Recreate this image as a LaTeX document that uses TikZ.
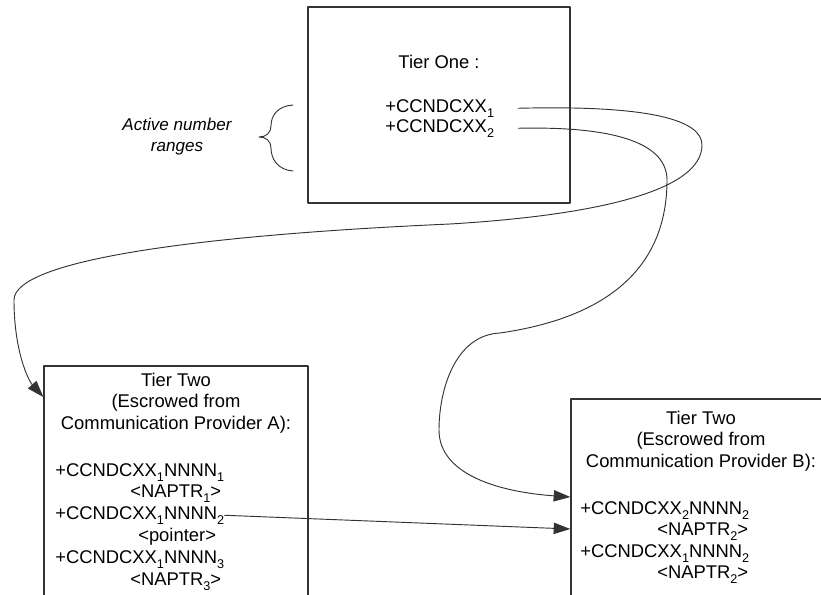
\documentclass[tikz,border=0pt]{standalone}
\usepackage{fontspec}
\setmainfont{Liberation Sans}
\usetikzlibrary{arrows.meta}
\newcommand{\lowsub}[1]{\raisebox{-0.55ex}{\fontsize{9.5}{9.5}\selectfont #1}}
\tikzset{
	tier/.style={draw=black!80, line width=1pt, inner sep=0pt},
	entry/.style={inner sep=0pt, anchor=base west},
	link/.style={line width=0.7pt, draw=black!80}
}
\begin{document}
\begin{tikzpicture}[x=0.75pt, y=-0.75pt, line join=round, line cap=round,
		>={Triangle[length=12.5pt,width=8.5pt]}, font=\fontsize{13.8}{16.3}\selectfont]
		\path[use as bounding box, clip] (0,0) rectangle (821,594);
		% the three tiers
		\node[tier, minimum width=196.5pt, minimum height=147pt] (one) at (439,105) {};
		\node[tier, minimum width=198pt, minimum height=205.5pt] (twoa) at (176,503) {};
		\node[tier, minimum width=246.75pt, minimum height=180.75pt] (twob) at (735.5,519.5) {};
		\node[inner sep=0pt] (t1) at (439,62) {Tier One :};
		\node[entry] (c1) at (385,112) {+CCNDCXX\lowsub{1}};
		\node[entry] (c2) at (385,132) {+CCNDCXX\lowsub{2}};
		\node[inner sep=0pt, align=center] (ha) at (176,403)
		{Tier Two\\(Escrowed from\\Communication Provider A):};
		\node[inner sep=0pt, align=center] (hb) at (701,441)
		{Tier Two\\(Escrowed from\\Communication Provider B):};
		\foreach \n/\x/\y/\t in {a1/55/476/{+CCNDCXX\lowsub{1}NNNN\lowsub{1}},
			a2/130/497/{<NAPTR\lowsub{1}>},
			a3/55/519/{+CCNDCXX\lowsub{1}NNNN\lowsub{2}},
			a4/138/541/{<pointer>},
			a5/55/563/{+CCNDCXX\lowsub{1}NNNN\lowsub{3}},
			a6/130/585/{<NAPTR\lowsub{3}>},
			b1/580/514/{+CCNDCXX\lowsub{2}NNNN\lowsub{2}},
			b2/657/535/{<NAPTR\lowsub{2}>},
			b3/580/557/{+CCNDCXX\lowsub{1}NNNN\lowsub{2}},
			b4/657/578/{<NAPTR\lowsub{2}>}}
		\node[entry] (\n) at (\x,\y) {\t};
		% active ranges
		\node[align=center, font=\itshape\fontsize{12.8}{15.8}\selectfont] (note) at (177,137)
		{Active number\\ranges};
		\draw[link] (293,105) .. controls (278,106) and (271,115) .. (271,126)
		.. controls (271,133) and (266,137) .. (259,137)
		.. controls (266,137) and (271,141) .. (271,148)
		.. controls (271,159) and (278,170) .. (293,171);
		% pointers
		\draw[link, ->] ([xshift=18pt]c1.east) .. controls (650,105) and (702,120) .. (702,145)
		.. controls (702,190) and (600,215) .. (450,224)
		.. controls (200,235) and (14,260) .. (14,300)
		.. controls (14,350) and (28,380) .. (twoa.west |- 0,397);
		\draw[link, ->] ([xshift=18pt]c2.east) .. controls (620,126) and (667,145) .. (667,180)
		.. controls (667,280) and (590,320) .. (500,333)
		.. controls (455,335) and (439,390) .. (439,430)
		.. controls (439,475) and (500,492) .. (twob.west |- 0,497);
		\draw[link, ->] (a3.east) -- (twob.west |- 0,529);
	\end{tikzpicture}
\end{document}
